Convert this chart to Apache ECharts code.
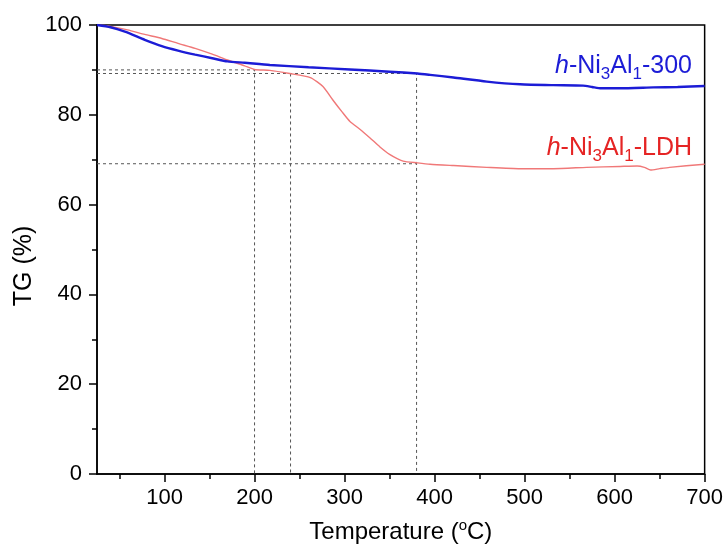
<!DOCTYPE html>
<html>
<head>
<meta charset="utf-8">
<script src="https://cdn.jsdelivr.net/npm/echarts@6/dist/echarts.min.js"></script>
<style>html,body{margin:0;padding:0;background:#fff;}#c{width:726px;height:550px;}</style>
</head>
<body>
<div id="c"></div>
<script>
// Temperature (°C) and TG (%) readings
const tempBlue = [25, 40, 56, 78, 97, 115, 134, 153, 170, 189, 217, 260, 306, 350, 381, 395, 421, 458, 495, 532, 565, 575, 585, 606, 643, 670, 700];
const tgBlue   = [100, 99.5, 98.5, 96.7, 95.3, 94.3, 93.4, 92.6, 91.9, 91.6, 91.1, 90.6, 90.1, 89.6, 89.2, 88.9, 88.3, 87.4, 86.8, 86.6, 86.5, 86.2, 85.9, 85.9, 86.1, 86.2, 86.4];
const tempRed = [25, 37, 59, 78, 97, 115, 134, 153, 170, 189, 200, 217, 239, 262, 276, 287, 297, 306, 317, 328, 339, 350, 365, 381, 395, 421, 458, 495, 532, 569, 606, 625, 633, 640, 650, 661, 700];
const tgRed   = [100, 99.8, 98.9, 97.9, 97.0, 95.9, 94.8, 93.5, 92.2, 90.9, 90.1, 89.9, 89.2, 88.3, 86.3, 83.3, 80.7, 78.5, 76.8, 74.9, 72.9, 71.2, 69.7, 69.3, 69.0, 68.7, 68.3, 68.0, 68.0, 68.3, 68.5, 68.6, 68.3, 67.7, 68.0, 68.3, 69.0];
// guide lines: [temperature, TG] pairs
const guideA = [[25, 90], [200, 90], [200, 0]];
const guideB = [[25, 89.2], [380, 89.2], [380, 0]];
const guideC = [[240, 89.2], [240, 0]];
const guideD = [[25, 69.1], [380, 69.1]];
const xMajor = [100, 200, 300, 400, 500, 600, 700];
const xMinor = [50, 150, 250, 350, 450, 550, 650];
const seriesNames = ['h-Ni3Al1-300', 'h-Ni3Al1-LDH'];

const FONT = 'Liberation Sans, Arial, sans-serif';
const chart = echarts.init(document.getElementById('c'));
const pair = (xs, ys) => xs.map((x, i) => [x, ys[i]]);
const guide = d => ({
  type: 'line', data: d, xAxisIndex: 0, yAxisIndex: 0, symbol: 'none', silent: true,
  lineStyle: {color: '#555', width: 1, type: [3, 3]}, z: 1
});
const labelRich = c => ({
  i: {fontSize: 25, fontStyle: 'italic', fontFamily: FONT, fill: c},
  n: {fontSize: 25, fontFamily: FONT, fill: c},
  b: {fontSize: 17, fontFamily: FONT, fill: c, padding: [16, 0, 0, 0]}
});
chart.setOption({
  animation: false,
  backgroundColor: '#fff',
  grid: {left: 97, right: 21, top: 25, bottom: 76, show: true, borderColor: '#000', borderWidth: 1.5, backgroundColor: 'transparent'},
  xAxis: [{
    type: 'value', min: 25, max: 700,
    axisLine: {lineStyle: {color: '#000', width: 1.5}},
    axisTick: {customValues: xMajor, length: 8, lineStyle: {color: '#000', width: 1.5}},
    axisLabel: {customValues: xMajor, color: '#000', fontSize: 22, fontFamily: FONT, margin: 13},
    splitLine: {show: false},
    name: 'Temperature ({s|o}C)', nameLocation: 'middle', nameGap: 44,
    nameTextStyle: {color: '#000', fontSize: 24, fontFamily: FONT, rich: {s: {fontSize: 15, fontFamily: FONT, padding: [0, 0, 13, 0]}}}
  }, {
    type: 'value', min: 25, max: 700, position: 'bottom',
    axisLine: {show: false},
    axisTick: {customValues: xMinor, length: 5, lineStyle: {color: '#000', width: 1.5}},
    axisLabel: {show: false}, splitLine: {show: false}
  }],
  yAxis: {
    type: 'value', min: 0, max: 100, interval: 20,
    axisLine: {show: true, lineStyle: {color: '#000', width: 1.5}},
    axisTick: {show: true, length: 8, lineStyle: {color: '#000', width: 1.5}},
    minorTick: {show: true, splitNumber: 2, length: 5, lineStyle: {color: '#000', width: 1.5}},
    axisLabel: {color: '#000', fontSize: 22, fontFamily: FONT, margin: 15},
    splitLine: {show: false}
  },
  series: [
    guide(guideA), guide(guideB), guide(guideC), guide(guideD),
    {name: seriesNames[1], type: 'line', data: pair(tempRed, tgRed), symbol: 'none', smooth: 0.2,
     lineStyle: {color: '#f07878', width: 1.4}, z: 3},
    {name: seriesNames[0], type: 'line', data: pair(tempBlue, tgBlue), symbol: 'none', smooth: 0.2,
     lineStyle: {color: '#1c1cd6', width: 2.4}, z: 4}
  ],
  graphic: [
    {type: 'text', x: 24, y: 266, rotation: Math.PI / 2, style: {
      text: 'TG (%)', fill: '#000', fontSize: 25, fontFamily: FONT, align: 'center', verticalAlign: 'middle'}},
    {type: 'text', right: 34, top: 54, style: {
      text: '{i|h}{n|-Ni}{b|3}{n|Al}{b|1}{n|-300}', rich: labelRich('#1c1cd6')}},
    {type: 'text', right: 34, top: 136, style: {
      text: '{i|h}{n|-Ni}{b|3}{n|Al}{b|1}{n|-LDH}', rich: labelRich('#e52424')}}
  ]
});
</script>
</body>
</html>
